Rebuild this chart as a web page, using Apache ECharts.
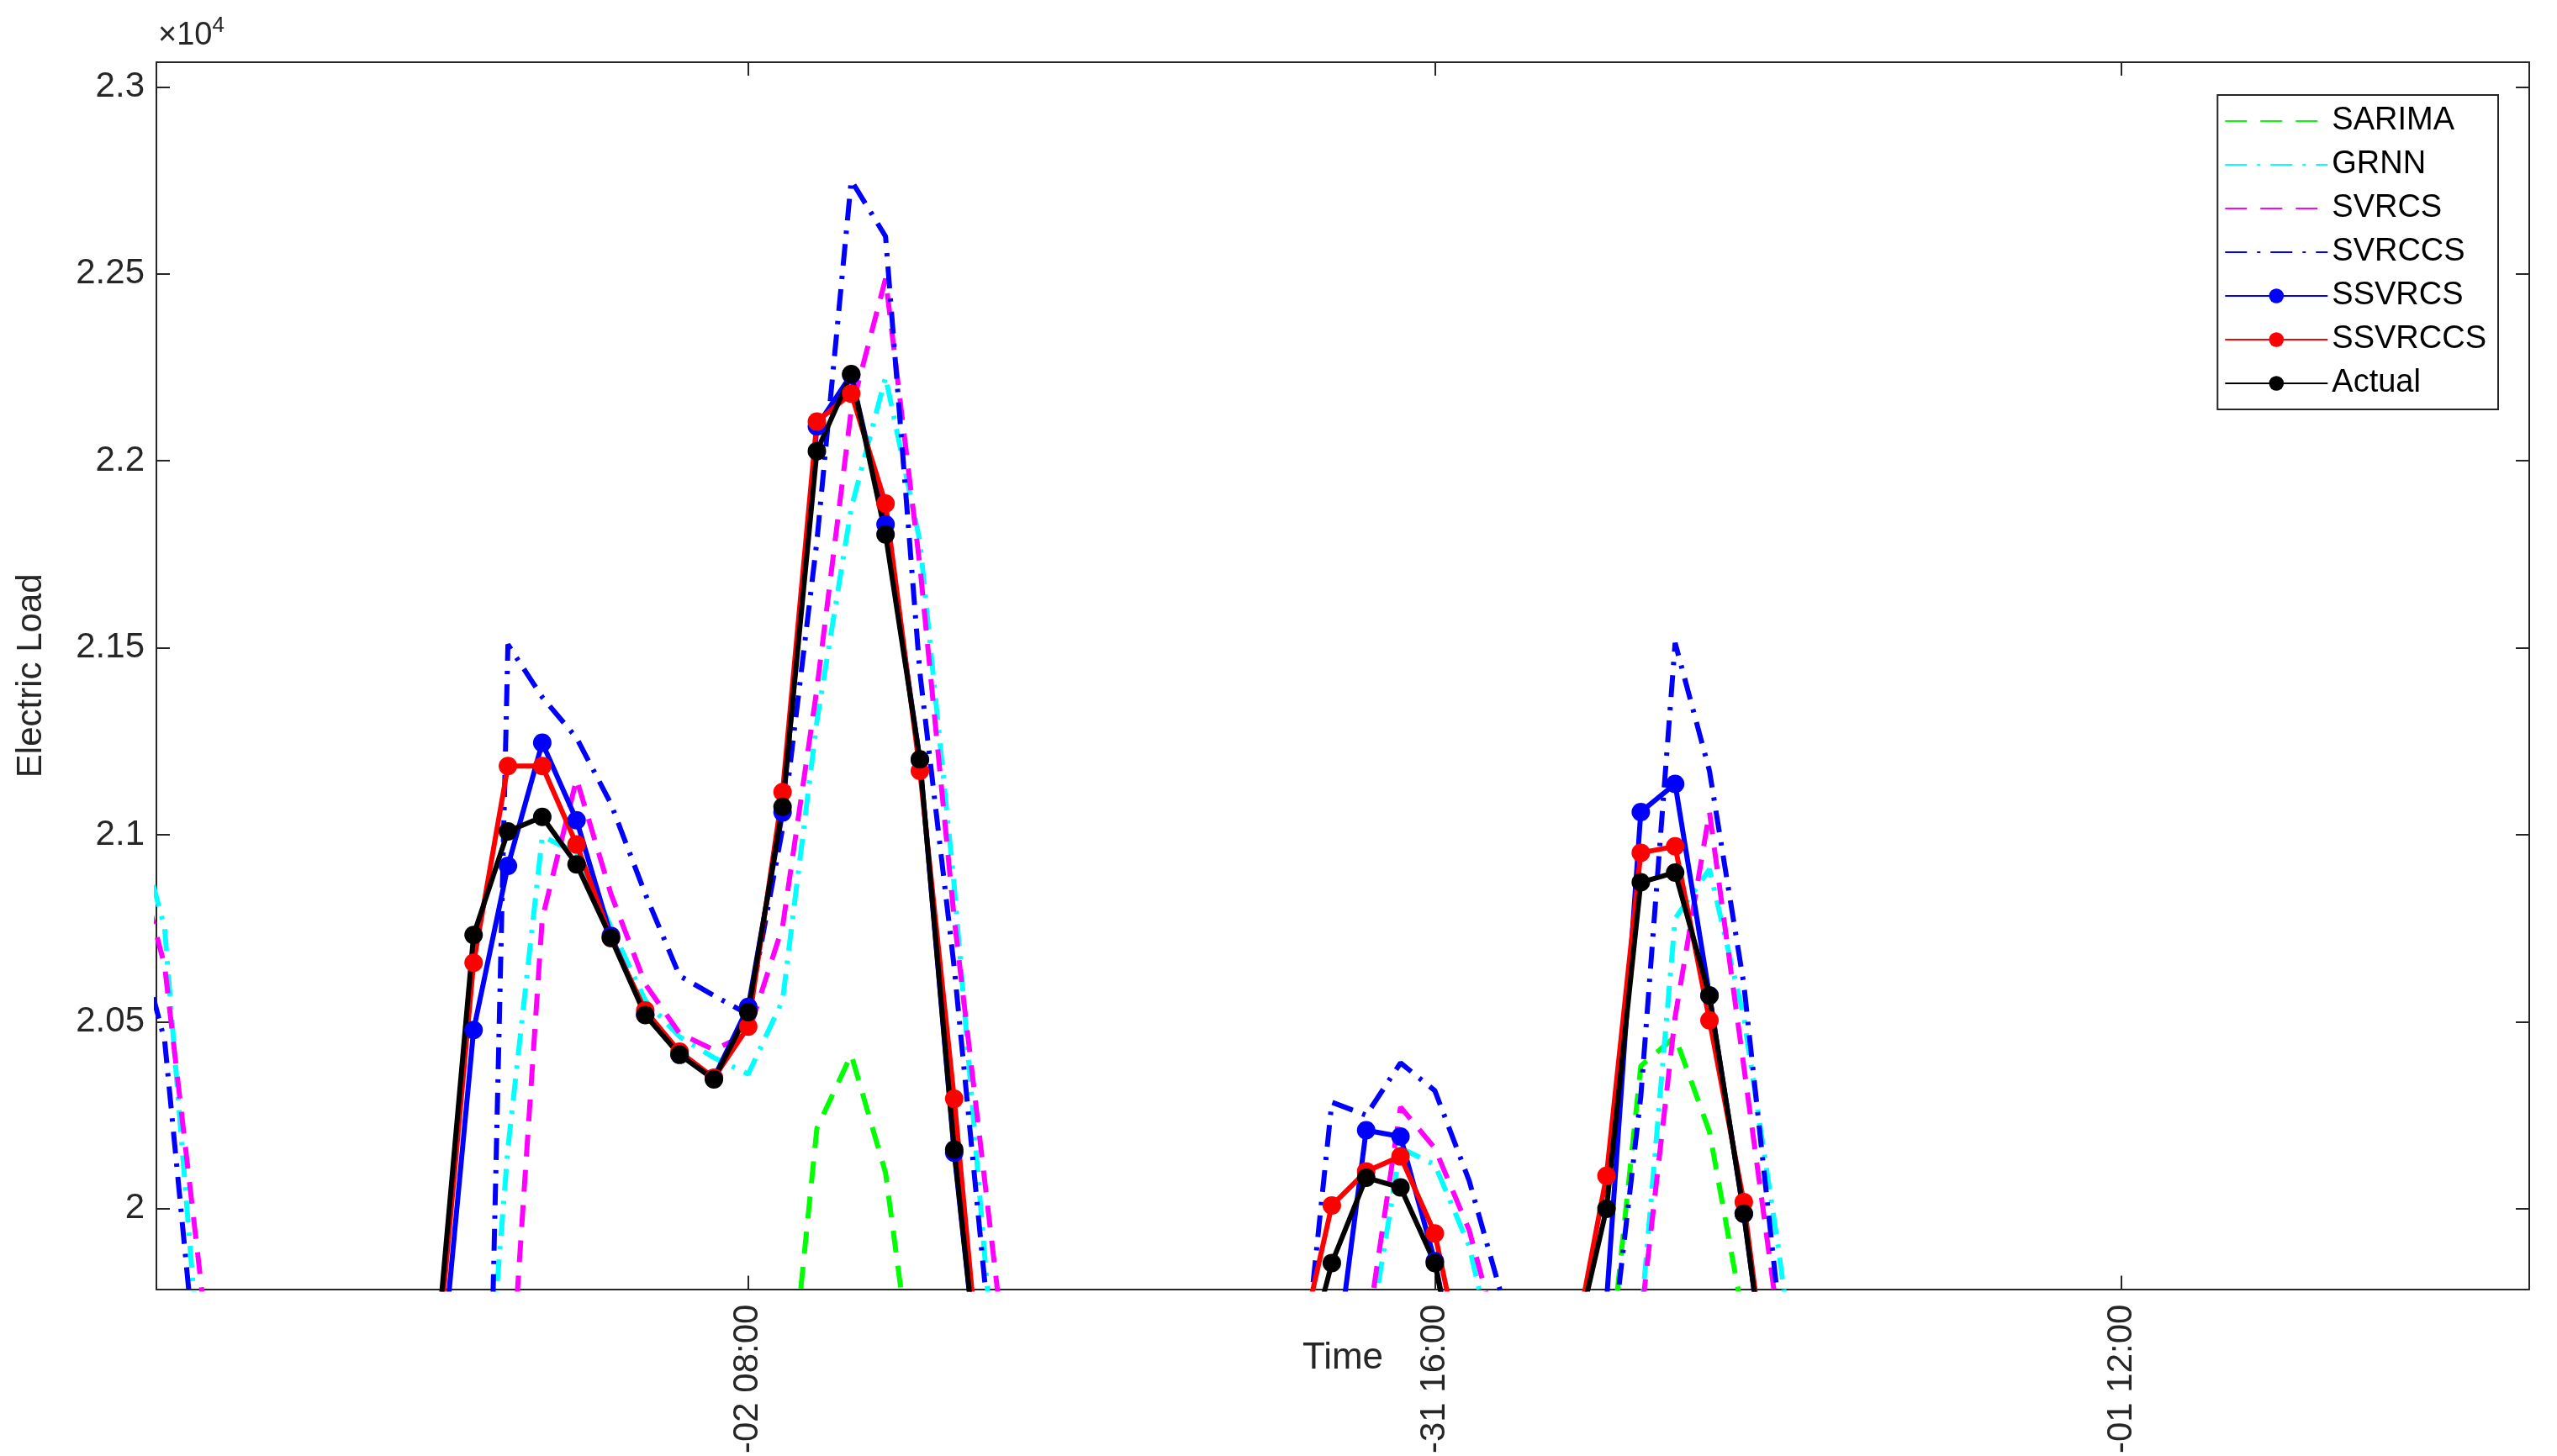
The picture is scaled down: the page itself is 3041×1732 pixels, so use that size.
<!DOCTYPE html>
<html><head><meta charset="utf-8">
<script src="https://cdn.jsdelivr.net/npm/echarts@6/dist/echarts.min.js"></script>
<style>html,body{margin:0;padding:0;background:#fff}#c{width:3041px;height:1732px}</style>
</head><body><div id="c"></div>
<script>
// time index (hourly steps), 0 = "-02 08:00"
const idx = [-18,-17,-16,-15,-14,-13,-12,-11,-10,-9,-8,-7,-6,-5,-4,-3,-2,-1,0,1,2,3,4,5,6,7,8,9,10,11,12,13,14,15,16,17,18,19,20,21,22,23,24,25,26,27,28,29,30,31];
const tickValues = [0, 20, 40];
const tickLabels = ['-02 08:00', '-31 16:00', '-01 12:00'];
const yTicks = [20000, 20500, 21000, 21500, 22000, 22500, 23000];

const SARIMA = [19000,19000,19000,19000,19000,19000,19000,19000,19000,19000,19000,19000,19000,19000,19000,19000,19000,19000,19000,19300,20215,20412,20096,19400,19000,19000,19000,19000,19000,19000,19000,19000,19000,19000,19000,19000,19000,19000,19000,19000,19000,19000,19000,19500,20382,20460,20206,19700,19000,19000];
const GRNN = [21100,20750,19600,19000,18800,18600,18600,18700,18800,18900,19000,20162,20996,20952,20754,20557,20460,20404,20360,20557,21303,21873,22224,21785,20864,19750,19200,18900,18700,18700,18800,19000,19200,19300,19400,19500,19600,20162,20118,19900,19500,19200,19100,19300,19700,20776,20908,20513,19900,19200];
const SVRCS = [21000,20650,19850,19000,18800,18600,18600,18700,18800,18900,19000,19400,20776,21149,20842,20601,20469,20425,20469,20754,21390,22136,22487,21720,20776,19987,19200,18900,18700,18700,18800,19000,19200,19300,19400,19500,19650,20272,20162,19943,19600,19200,19100,19300,19700,20513,21061,20381,19700,19200];
const SVRCCS = [20800,20450,19500,19000,18800,18600,18600,18700,18800,18900,17500,21509,21368,21259,21083,20842,20623,20570,20520,21017,21785,22750,22600,21434,20645,19700,19200,18900,18700,18700,18800,19000,19200,19300,19400,20285,20250,20390,20316,20075,19750,19300,19200,19500,20300,21513,21171,20601,19750,19300];
const SSVRCS = [19400,19100,18800,18600,18500,18500,18600,18900,19300,19500,20478,20917,21246,21039,20730,20520,20412,20350,20540,21060,22092,22230,21830,21200,20150,19300,18900,18700,18600,18600,18700,18900,19100,19300,19400,19500,20210,20193,19860,19400,19100,19200,19500,19750,21061,21136,20570,19987,19300,18900];
const SSVRCCS = [19400,19100,18800,18600,18500,18500,18600,18900,19300,19650,20658,21184,21184,20974,20724,20530,20420,20350,20487,21114,22105,22180,21886,21171,20294,19300,18900,18700,18600,18600,18700,18900,19100,19300,19600,20009,20100,20140,19934,19500,19100,19200,19600,20088,20952,20969,20504,20018,19300,18900];
const Actual = [19400,19100,18800,18600,18500,18500,18600,18900,19300,19700,20732,21009,21048,20921,20724,20518,20412,20346,20526,21075,22026,22232,21803,21202,20158,19300,18900,18700,18600,18600,18700,18900,19100,19300,19500,19855,20083,20057,19855,19400,19100,19200,19600,20000,20873,20899,20570,19987,19300,18900];

const pairs = a => idx.map((x, i) => [x, a[i]]);
const axisColor = '#262626';
const font = 'Liberation Sans';
const dashDot = [26, 12, 4, 12];
const dash = [26, 16];

function dashed(name, arr, color, type) {
  return { name, type: 'line', data: pairs(arr), symbol: 'none', clip: true,
    lineStyle: { color, width: 6, type }, itemStyle: { color } };
}
function solid(name, arr, color) {
  return { name, type: 'line', data: pairs(arr), symbol: 'circle', symbolSize: 22, showAllSymbol: true, clip: true,
    lineStyle: { color, width: 6 }, itemStyle: { color } };
}
const xCommon = { type: 'value', min: -17.24, max: 51.88, splitLine: { show: false } };
const yCommon = { type: 'value', min: 19785, max: 23066, splitLine: { show: false } };
const tickStyle = { color: axisColor, width: 2 };

const chart = echarts.init(document.getElementById('c'));
chart.setOption({
  animation: false,
  backgroundColor: '#fff',
  textStyle: { fontFamily: font },
  grid: { left: 186, right: 33, top: 74, bottom: 191, containLabel: false },
  xAxis: [Object.assign({}, xCommon, {
    name: 'Time', nameLocation: 'middle', nameGap: 60, nameMoveOverlap: false,
    nameTextStyle: { color: axisColor, fontSize: 44, fontFamily: font },
    axisLine: { onZero: false, lineStyle: tickStyle },
    axisTick: { inside: true, length: 16, customValues: tickValues, lineStyle: tickStyle },
    axisLabel: { customValues: tickValues, rotate: 90, color: axisColor, fontSize: 42, margin: 18,
      formatter: v => tickLabels[tickValues.indexOf(v)] || '' }
  }), Object.assign({}, xCommon, {
    position: 'top',
    axisLine: { onZero: false, lineStyle: tickStyle },
    axisTick: { inside: true, length: 16, customValues: tickValues, lineStyle: tickStyle },
    axisLabel: { show: false }
  })],
  yAxis: [Object.assign({}, yCommon, {
    name: 'Electric Load', nameLocation: 'middle', nameGap: 128,
    nameTextStyle: { color: axisColor, fontSize: 42, fontFamily: font },
    axisLine: { show: true, onZero: false, lineStyle: tickStyle },
    axisTick: { show: true, inside: true, length: 16, customValues: yTicks, lineStyle: tickStyle },
    axisLabel: { customValues: yTicks, color: axisColor, fontSize: 42, margin: 14,
      formatter: v => String(+(v / 10000).toFixed(2)) }
  }), Object.assign({}, yCommon, {
    position: 'right',
    axisLine: { show: true, onZero: false, lineStyle: tickStyle },
    axisTick: { show: true, inside: true, length: 16, customValues: yTicks, lineStyle: tickStyle },
    axisLabel: { show: false }
  })],
  legend: {
    orient: 'vertical', right: 70, top: 113,
    backgroundColor: '#fff', borderColor: '#262626', borderWidth: 2,
    padding: [12, 14, 12, 8], itemGap: 14, itemWidth: 122, itemHeight: 22,
    textStyle: { color: '#000', fontSize: 38, fontFamily: font },
    data: [
      { name: 'SARIMA', itemStyle: { opacity: 0 } },
      { name: 'GRNN', itemStyle: { opacity: 0 } },
      { name: 'SVRCS', itemStyle: { opacity: 0 } },
      { name: 'SVRCCS', itemStyle: { opacity: 0 } },
      'SSVRCS', 'SSVRCCS', 'Actual'
    ]
  },
  graphic: [{
    type: 'text', left: 188, top: 18,
    style: { text: '{a|×10}{b|4}', rich: { a: { fontSize: 38, fill: axisColor, fontFamily: font, verticalAlign: 'bottom' },
      b: { fontSize: 26, fill: axisColor, fontFamily: font, verticalAlign: 'top', padding: [0, 0, 18, 0] } } }
  }],
  series: [
    dashed('SARIMA', SARIMA, '#00ff00', dash),
    dashed('GRNN', GRNN, '#00ffff', dashDot),
    dashed('SVRCS', SVRCS, '#ff00ff', dash),
    dashed('SVRCCS', SVRCCS, '#0000ff', dashDot),
    solid('SSVRCS', SSVRCS, '#0000ff'),
    solid('SSVRCCS', SSVRCCS, '#ff0000'),
    solid('Actual', Actual, '#000000')
  ]
});
</script></body></html>
